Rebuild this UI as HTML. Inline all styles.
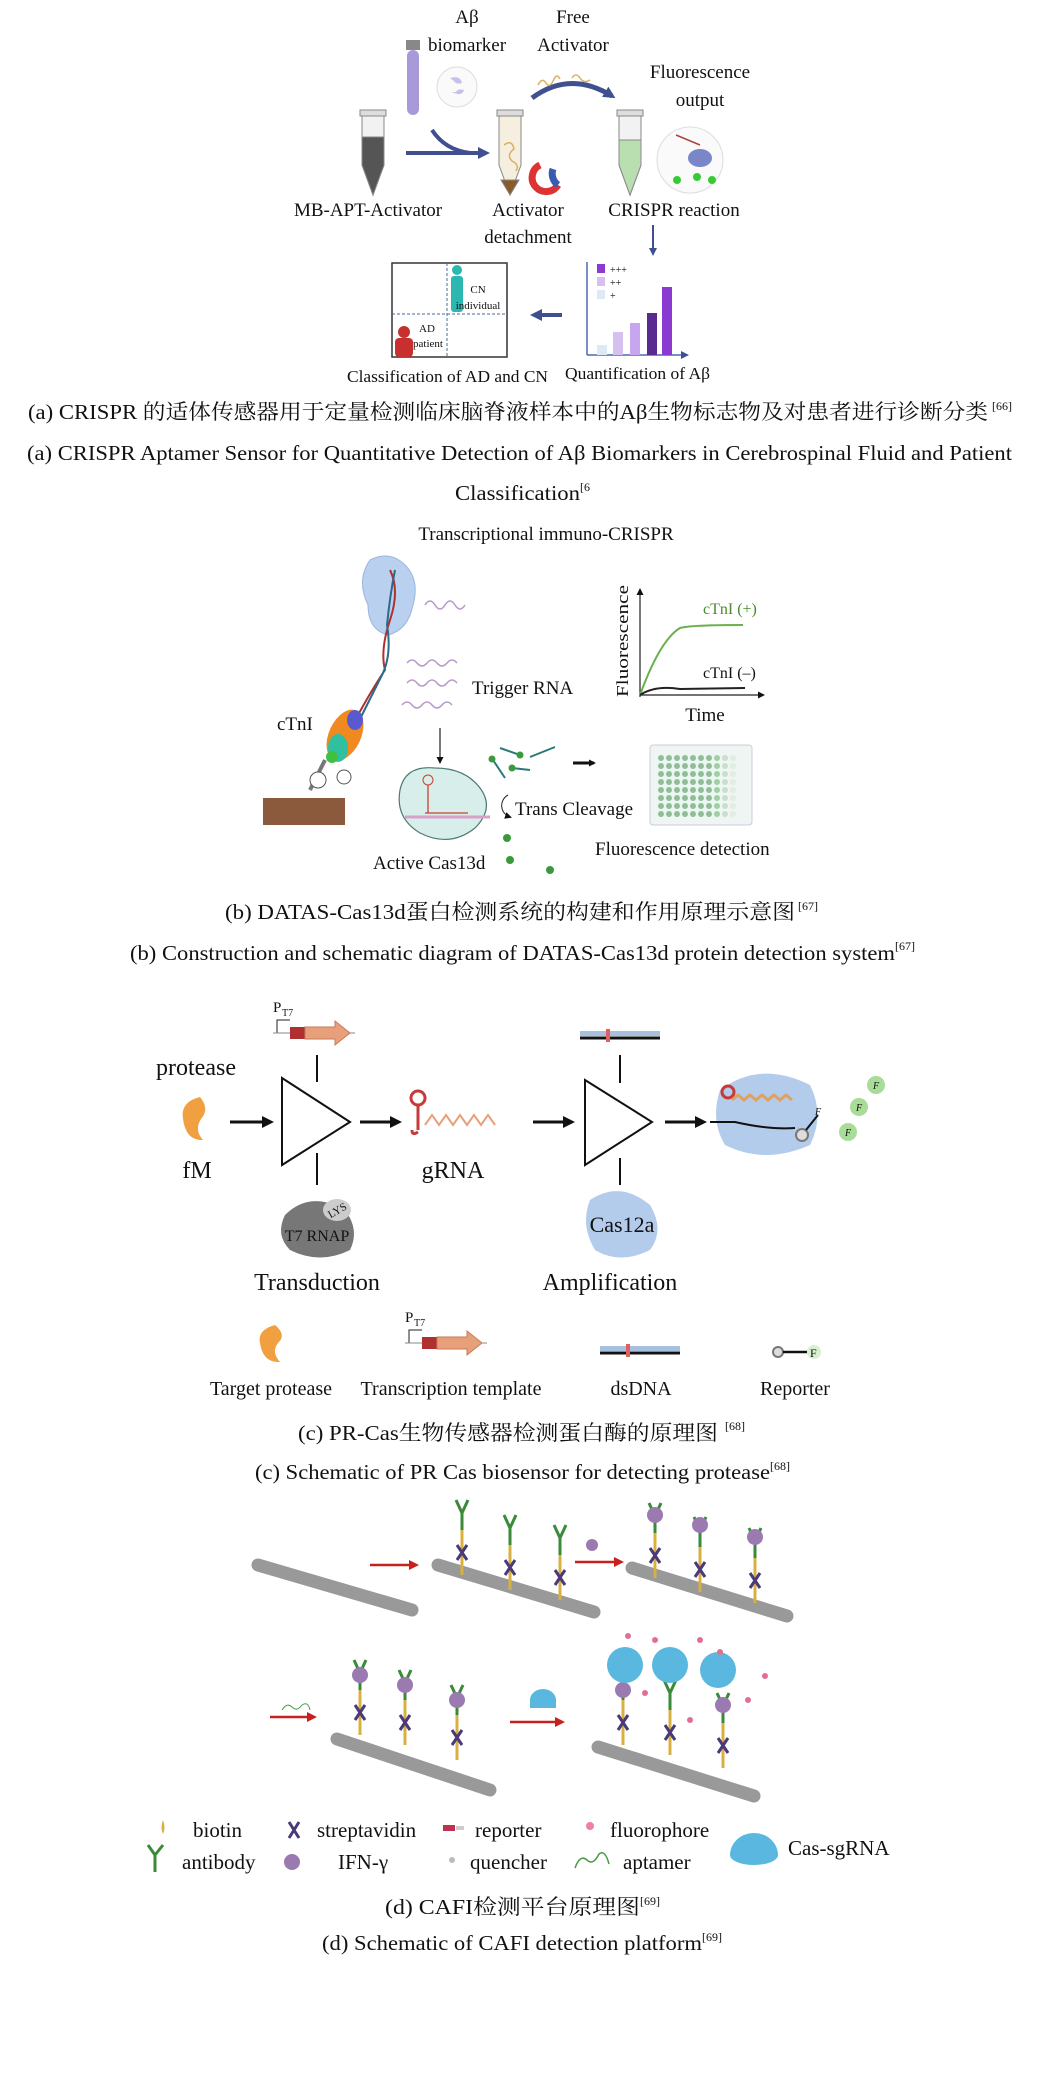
<!DOCTYPE html>
<html><head><meta charset="utf-8"><style>
html,body{margin:0;padding:0;background:#fff;}
svg{display:block;}
text{font-family:"Liberation Serif","Noto Serif CJK SC","Noto Sans CJK SC",serif;fill:#111;}
</style></head><body>
<svg width="1043" height="2100" viewBox="0 0 1043 2100" xmlns="http://www.w3.org/2000/svg">
<defs>
<marker id="ab" markerUnits="userSpaceOnUse" markerWidth="12" markerHeight="12" refX="8" refY="6" orient="auto"><path d="M0,0 L12,6 L0,12 z" fill="#3f4f8f"/></marker>
<marker id="abs" markerUnits="userSpaceOnUse" markerWidth="8" markerHeight="8" refX="5" refY="4" orient="auto"><path d="M0,0 L8,4 L0,8 z" fill="#3f4f8f"/></marker>
<marker id="ak" markerUnits="userSpaceOnUse" markerWidth="12" markerHeight="12" refX="8" refY="6" orient="auto"><path d="M0,0 L12,6 L0,12 z" fill="#111"/></marker>
<marker id="aks" markerUnits="userSpaceOnUse" markerWidth="7" markerHeight="7" refX="5" refY="3.5" orient="auto"><path d="M0,0 L7,3.5 L0,7 z" fill="#111"/></marker>
<marker id="ar" markerUnits="userSpaceOnUse" markerWidth="10" markerHeight="10" refX="7" refY="5" orient="auto"><path d="M0,0 L10,5 L0,10 z" fill="#c8201e"/></marker>
</defs>

<!-- ===== Section a ===== -->
<g font-size="19" text-anchor="middle">
<text x="467" y="23">Aβ</text>
<text x="467" y="51">biomarker</text>
<text x="573" y="23">Free</text>
<text x="573" y="51">Activator</text>
<text x="700" y="78">Fluorescence</text>
<text x="700" y="106">output</text>
<text x="368" y="216">MB-APT-Activator</text>
<text x="528" y="216">Activator</text>
<text x="528" y="243">detachment</text>
<text x="674" y="216">CRISPR reaction</text>
</g>
<g stroke="#888" stroke-width="1">
<rect x="360" y="110" width="26" height="6" fill="#ddd"/>
<path d="M362,116 L384,116 L384,165 L373,195 L362,165 Z" fill="#f2f2f2"/>
<path d="M362,137 L384,137 L384,165 L373,195 L362,165 Z" fill="#555"/>
<rect x="497" y="110" width="26" height="6" fill="#ddd"/>
<path d="M499,116 L521,116 L521,165 L510,195 L499,165 Z" fill="#f6efe0"/>
<path d="M501,180 L519,180 L510,195 Z" fill="#8a5a2a"/>
<rect x="617" y="110" width="26" height="6" fill="#ddd"/>
<path d="M619,116 L641,116 L641,165 L630,195 L619,165 Z" fill="#f2f2f2"/>
<path d="M619,140 L641,140 L641,165 L630,195 L619,165 Z" fill="#b9deb0"/>
</g>
<path d="M504,145 q8,-6 10,4 q-8,6 -2,12 q8,4 4,10" stroke="#d9b060" fill="none" stroke-width="1.5"/>
<rect x="406" y="40" width="14" height="10" fill="#888"/>
<rect x="407" y="50" width="12" height="65" rx="6" fill="#a89ad8"/>
<circle cx="457" cy="87" r="20" fill="#fafafa" stroke="#ddd"/>
<path d="M450,78 q10,-3 12,5 q-6,2 -8,-2z M452,92 q10,5 12,-2 q-6,-2 -8,2z" fill="#c8c0e8"/>
<path d="M406,153 L486,153" stroke="#3f4f8f" stroke-width="4" marker-end="url(#ab)"/>
<path d="M432,130 Q445,150 470,153" stroke="#3f4f8f" stroke-width="4" fill="none"/>
<path d="M532,98 Q570,70 612,96" stroke="#3f4f8f" stroke-width="5" fill="none" marker-end="url(#ab)"/>
<path d="M538,85 q4,-8 8,-2 q4,6 8,-4 q3,-6 6,0 M572,78 q4,-6 8,0 q4,6 10,2" stroke="#d9b060" fill="none" stroke-width="1.5"/>
<path d="M540,165 a14,14 0 1,0 18,20" stroke="#d33" stroke-width="7" fill="none"/>
<path d="M558,185 a14,14 0 0,1 -5,-16" stroke="#3b5bb0" stroke-width="7" fill="none"/>
<circle cx="690" cy="160" r="33" fill="#fafafa" stroke="#ddd"/>
<ellipse cx="700" cy="158" rx="12" ry="9" fill="#7b86c8"/>
<circle cx="677" cy="180" r="4" fill="#3c3"/><circle cx="697" cy="177" r="4" fill="#3c3"/><circle cx="712" cy="180" r="4" fill="#3c3"/>
<path d="M676,135 L700,145" stroke="#a44" stroke-width="1.5"/>
<path d="M653,225 L653,253" stroke="#3f4f8f" stroke-width="2" marker-end="url(#abs)"/>
<rect x="392" y="263" width="115" height="94" fill="#fff" stroke="#333" stroke-width="1.5"/>
<path d="M392,314 L507,314" stroke="#4a6a9a" stroke-dasharray="3,2"/>
<path d="M447,263 L447,357" stroke="#4a6a9a" stroke-dasharray="3,2"/>
<circle cx="457" cy="270" r="5" fill="#2bb8b0"/>
<rect x="451" y="276" width="12" height="36" rx="3" fill="#2bb8b0"/>
<text x="478" y="293" font-size="11" text-anchor="middle">CN</text>
<text x="478" y="309" font-size="11" text-anchor="middle">individual</text>
<circle cx="404" cy="332" r="6" fill="#c83030"/>
<rect x="395" y="338" width="18" height="19" rx="4" fill="#c83030"/>
<text x="427" y="332" font-size="11" text-anchor="middle">AD</text>
<text x="428" y="347" font-size="11" text-anchor="middle">patient</text>
<path d="M562,315 L534,315" stroke="#3f4f8f" stroke-width="4" marker-end="url(#ab)"/>
<path d="M587,355 L587,262" stroke="#4a6ab0" stroke-width="1.5"/>
<path d="M587,355 L686,355" stroke="#4a6ab0" stroke-width="1.5" marker-end="url(#abs)"/>
<rect x="597" y="345" width="10" height="10" fill="#dde9f6"/>
<rect x="613" y="332" width="10" height="23" fill="#d6c0f0"/>
<rect x="630" y="323" width="10" height="32" fill="#c7a5ef"/>
<rect x="647" y="313" width="10" height="42" fill="#5a2a90"/>
<rect x="662" y="287" width="10" height="68" fill="#8a3ad0"/>
<rect x="597" y="264" width="8" height="9" fill="#8a3ad0"/><text x="610" y="273" font-size="10">+++</text>
<rect x="597" y="277" width="8" height="9" fill="#d6c0f0"/><text x="610" y="286" font-size="10">++</text>
<rect x="597" y="290" width="8" height="9" fill="#dde9f6"/><text x="610" y="299" font-size="10">+</text>
<text x="347" y="382" font-size="17" textLength="201" lengthAdjust="spacingAndGlyphs">Classification of AD and CN</text>
<text x="565" y="379" font-size="17" textLength="145" lengthAdjust="spacingAndGlyphs">Quantification of Aβ</text>
<text x="28" y="419" font-size="21" textLength="960" lengthAdjust="spacingAndGlyphs">(a) CRISPR 的适体传感器用于定量检测临床脑脊液样本中的Aβ生物标志物及对患者进行诊断分类</text>
<text x="992" y="410" font-size="12">[66]</text>
<text x="27" y="460" font-size="21" textLength="985" lengthAdjust="spacingAndGlyphs">(a) CRISPR Aptamer Sensor for Quantitative Detection of Aβ Biomarkers in Cerebrospinal Fluid and Patient</text>
<text x="455" y="500" font-size="21" textLength="125" lengthAdjust="spacingAndGlyphs">Classification</text>
<text x="580" y="491" font-size="12">[6</text>

<!-- ===== Section b ===== -->
<text x="546" y="540" font-size="19" text-anchor="middle">Transcriptional immuno-CRISPR</text>
<path d="M370,560 q20,-10 35,5 q15,15 8,40 q-5,25 -25,30 q-20,-5 -20,-30 q-12,-25 2,-45z" fill="#b9d0ee" stroke="#9ab6e0"/>
<path d="M390,570 q10,20 0,50 q-10,30 -5,50 q-20,30 -40,70" stroke="#b03030" stroke-width="2" fill="none"/>
<path d="M395,570 q-5,25 -8,55 q5,30 -5,50 q-15,30 -35,70" stroke="#2a6a8a" stroke-width="2" fill="none"/>
<path d="M425,605 q5,-8 10,0 q5,8 10,0 q5,-8 10,0 q5,8 10,0" stroke="#b898c8" fill="none" stroke-width="1.5"/>
<g stroke="#b898c8" fill="none" stroke-width="1.5">
<path d="M407,663 q5,-6 10,0 q5,6 10,0 q5,-6 10,0 q5,6 10,0 q5,-6 10,0"/>
<path d="M407,683 q5,-6 10,0 q5,6 10,0 q5,-6 10,0 q5,6 10,0 q5,-6 10,0"/>
<path d="M402,705 q5,-6 10,0 q5,6 10,0 q5,-6 10,0 q5,6 10,0 q5,-6 10,0"/>
</g>
<text x="472" y="694" font-size="19">Trigger RNA</text>
<text x="277" y="730" font-size="19">cTnI</text>
<ellipse cx="345" cy="735" rx="16" ry="27" fill="#f08a20" transform="rotate(25 345 735)"/>
<ellipse cx="338" cy="748" rx="10" ry="14" fill="#30c0a0"/>
<ellipse cx="355" cy="720" rx="8" ry="10" fill="#5a5ad0"/>
<ellipse cx="332" cy="757" rx="6" ry="6" fill="#40c040"/>
<path d="M325,760 L310,790" stroke="#777" stroke-width="4"/>
<circle cx="318" cy="780" r="8" fill="#fff" stroke="#555"/><circle cx="344" cy="777" r="7" fill="#fff" stroke="#555"/>
<rect x="263" y="798" width="82" height="27" fill="#8b5a3c"/>
<path d="M440,728 L440,762" stroke="#222" stroke-width="1.2" marker-end="url(#aks)"/>
<path d="M400,790 q5,-25 35,-22 q30,0 45,20 q15,20 -5,40 q-25,20 -55,5 q-25,-15 -20,-43z" fill="#d8eeea" stroke="#4a7a72" stroke-width="1.2"/>
<path d="M405,817 L490,817" stroke="#d9a0c8" stroke-width="3"/>
<path d="M425,813 L468,813 M428,813 L428,785" stroke="#c84030" stroke-width="1.3" fill="none"/>
<circle cx="428" cy="780" r="5" fill="none" stroke="#c84030"/>
<text x="373" y="869" font-size="19">Active Cas13d</text>
<g stroke="#2a7a7a" stroke-width="2">
<path d="M500,748 L520,755"/><path d="M530,757 L555,747"/><path d="M493,760 L505,778"/><path d="M512,768 L530,770"/>
</g>
<g fill="#3a9a3a"><circle cx="520" cy="755" r="3.5"/><circle cx="492" cy="759" r="3.5"/><circle cx="512" cy="768" r="3.5"/><circle cx="507" cy="838" r="4"/><circle cx="510" cy="860" r="4"/><circle cx="550" cy="870" r="4"/></g>
<path d="M573,763 L594,763" stroke="#111" stroke-width="3" marker-end="url(#aks)"/>
<path d="M508,795 a12,12 0 0,0 2,22" stroke="#222" fill="none" marker-end="url(#aks)"/>
<text x="515" y="815" font-size="19">Trans Cleavage</text>
<rect x="650" y="745" width="102" height="80" rx="3" fill="#eef5f2" stroke="#ccd"/>
<g id="wells">
<circle cx="661" cy="758" r="3" fill="#8fbf9a"/><circle cx="669" cy="758" r="3" fill="#8fbf9a"/><circle cx="677" cy="758" r="3" fill="#8fbf9a"/><circle cx="685" cy="758" r="3" fill="#8fbf9a"/><circle cx="693" cy="758" r="3" fill="#8fbf9a"/><circle cx="701" cy="758" r="3" fill="#8fbf9a"/><circle cx="709" cy="758" r="3" fill="#8fbf9a"/><circle cx="717" cy="758" r="3" fill="#9fcfa4"/><circle cx="725" cy="758" r="3" fill="#c8e0cc"/><circle cx="733" cy="758" r="3" fill="#e0ece4"/>
</g>
<use href="#wells" y="8"/><use href="#wells" y="16"/><use href="#wells" y="24"/><use href="#wells" y="32"/><use href="#wells" y="40"/><use href="#wells" y="48"/><use href="#wells" y="56"/>
<text x="595" y="855" font-size="19">Fluorescence detection</text>
<path d="M640,697 L640,590" stroke="#222" stroke-width="1.2" marker-end="url(#aks)"/>
<path d="M640,695 L763,695" stroke="#222" stroke-width="1.2" marker-end="url(#aks)"/>
<text x="0" y="0" font-size="17" transform="translate(628,697) rotate(-90)" textLength="112" lengthAdjust="spacingAndGlyphs">Fluorescence</text>
<path d="M640,695 Q660,640 680,628 Q690,625 743,625" stroke="#6ab04c" stroke-width="2" fill="none"/>
<path d="M640,695 Q655,685 680,689 L745,688" stroke="#222" stroke-width="2" fill="none"/>
<text x="703" y="614" font-size="16" style="fill:#4a8a2a">cTnI (+)</text>
<text x="703" y="678" font-size="16">cTnI (–)</text>
<text x="705" y="721" font-size="19" text-anchor="middle">Time</text>
<text x="225" y="919" font-size="21" textLength="570" lengthAdjust="spacingAndGlyphs">(b) DATAS-Cas13d蛋白检测系统的构建和作用原理示意图</text>
<text x="798" y="910" font-size="12">[67]</text>
<text x="130" y="960" font-size="21" textLength="765" lengthAdjust="spacingAndGlyphs">(b) Construction and schematic diagram of DATAS-Cas13d protein detection system</text>
<text x="895" y="950" font-size="12">[67]</text>

<!-- ===== Section c ===== -->
<g id="tmpl">
<text x="273" y="1012" font-size="15">P</text><text x="282" y="1016" font-size="10">T7</text>
<path d="M277,1033 L277,1020 L290,1020" stroke="#222" fill="none"/>
<path d="M273,1033 L355,1033" stroke="#888"/>
<rect x="290" y="1027" width="15" height="12" fill="#b03030"/>
<path d="M305,1027 L335,1027 L335,1021 L350,1033 L335,1045 L335,1039 L305,1039 Z" fill="#e8a07a" stroke="#c87a5a"/>
</g>
<path d="M317,1055 L317,1082 M317,1153 L317,1185" stroke="#111" stroke-width="2"/>
<text x="196" y="1075" font-size="24" text-anchor="middle">protease</text>
<path d="M200,1097 q-20,5 -17,22 q3,22 20,21 q-9,-10 -2,-21 q9,-10 -1,-22z" fill="#f0a040"/>
<text x="197" y="1178" font-size="24" text-anchor="middle">fM</text>
<path d="M282,1078 L350,1122 L282,1165 Z" fill="#fff" stroke="#111" stroke-width="2"/>
<path d="M585,1080 L652,1122 L585,1165 Z" fill="#fff" stroke="#111" stroke-width="2"/>
<g stroke="#111" stroke-width="3">
<path d="M230,1122 L270,1122" marker-end="url(#ak)"/><path d="M360,1122 L398,1122" marker-end="url(#ak)"/>
<path d="M533,1122 L571,1122" marker-end="url(#ak)"/><path d="M665,1122 L703,1122" marker-end="url(#ak)"/>
</g>
<circle cx="418" cy="1098" r="7" fill="none" stroke="#c83a3a" stroke-width="3"/>
<path d="M418,1105 L418,1130 M412,1130 q0,6 6,2" stroke="#c83a3a" stroke-width="3" fill="none"/>
<path d="M425,1125 l7,-10 l7,10 l7,-10 l7,10 l7,-10 l7,10 l7,-10 l7,10 l7,-10 l7,10" stroke="#e8a07a" stroke-width="2" fill="none"/>
<text x="453" y="1178" font-size="24" text-anchor="middle">gRNA</text>
<g id="ds">
<rect x="580" y="1031" width="80" height="5" fill="#a8c0e0"/>
<path d="M580,1038 L660,1038" stroke="#111" stroke-width="3"/>
<rect x="606" y="1029" width="4" height="13" fill="#e06060"/>
</g>
<path d="M620,1055 L620,1083 M620,1158 L620,1185" stroke="#111" stroke-width="2"/>
<path d="M590,1200 q30,-20 60,5 q15,25 0,45 q-30,15 -55,0 q-15,-25 -5,-50z" fill="#b4cceb"/>
<text x="622" y="1232" font-size="22" text-anchor="middle">Cas12a</text>
<path d="M285,1215 q25,-25 60,-5 q15,20 5,40 q-30,15 -60,0 q-15,-15 -5,-35z" fill="#777"/>
<ellipse cx="337" cy="1210" rx="14" ry="11" fill="#ccc"/>
<text x="337" y="1214" font-size="11" text-anchor="middle" transform="rotate(-30 337 1210)">LYS</text>
<text x="317" y="1241" font-size="16" text-anchor="middle">T7 RNAP</text>
<path d="M720,1090 q40,-30 90,-5 q15,30 0,60 q-45,20 -85,0 q-15,-25 -5,-55z" fill="#b4cceb"/>
<circle cx="728" cy="1092" r="6" fill="none" stroke="#c83a3a" stroke-width="3"/>
<path d="M732,1100 l6,-5 l6,5 l6,-5 l6,5 l6,-5 l6,5 l6,-5 l6,5 l6,-5 l6,5" stroke="#e0a060" stroke-width="3" fill="none"/>
<path d="M710,1122 L735,1122 Q770,1130 795,1128" stroke="#111" stroke-width="2" fill="none"/>
<circle cx="802" cy="1135" r="6" fill="#ddd" stroke="#777" stroke-width="2"/>
<path d="M806,1130 L818,1115" stroke="#111" stroke-width="2"/>
<g fill="#a8dc98"><circle cx="876" cy="1085" r="9"/><circle cx="859" cy="1107" r="9"/><circle cx="848" cy="1132" r="9"/></g>
<g font-size="10" font-style="italic"><text x="873" y="1089">F</text><text x="856" y="1111">F</text><text x="845" y="1136">F</text><text x="815" y="1115">F</text></g>
<text x="317" y="1290" font-size="24" text-anchor="middle">Transduction</text>
<text x="610" y="1290" font-size="24" text-anchor="middle">Amplification</text>
<path d="M275,1325 q-18,5 -15,18 q3,20 20,19 q-9,-10 -2,-19 q9,-8 -3,-18z" fill="#f0a040"/>
<use href="#tmpl" x="132" y="310"/>
<use href="#ds" x="20" y="315"/>
<circle cx="778" cy="1352" r="5" fill="#ddd" stroke="#777" stroke-width="2"/>
<path d="M783,1352 L807,1352" stroke="#111" stroke-width="2.5"/>
<circle cx="814" cy="1352" r="7" fill="#d8efd0"/><text x="810" y="1357" font-size="12">F</text>
<g font-size="20" text-anchor="middle">
<text x="271" y="1395">Target protease</text>
<text x="451" y="1395">Transcription template</text>
<text x="641" y="1395">dsDNA</text>
<text x="795" y="1395">Reporter</text>
</g>
<text x="298" y="1440" font-size="21" textLength="420" lengthAdjust="spacingAndGlyphs">(c) PR-Cas生物传感器检测蛋白酶的原理图</text>
<text x="725" y="1430" font-size="12">[68]</text>
<text x="255" y="1479" font-size="21" textLength="515" lengthAdjust="spacingAndGlyphs">(c) Schematic of PR Cas biosensor for detecting protease</text>
<text x="770" y="1470" font-size="12">[68]</text>

<!-- ===== Section d ===== -->
<g stroke="#999" stroke-width="13" stroke-linecap="round">
<path d="M258,1565 L412,1610"/><path d="M438,1565 L594,1612"/><path d="M632,1568 L787,1616"/>
<path d="M337,1739 L490,1790"/><path d="M598,1747 L754,1796"/>
</g>
<g stroke="#c8201e" stroke-width="2.5">
<path d="M370,1565 L416,1565" marker-end="url(#ar)"/><path d="M575,1562 L621,1562" marker-end="url(#ar)"/>
<path d="M270,1717 L314,1717" marker-end="url(#ar)"/><path d="M510,1722 L562,1722" marker-end="url(#ar)"/>
</g>
<g id="stalk">
<path d="M0,0 L0,-45" stroke="#d8b040" stroke-width="3"/>
<path d="M-5,-30 L5,-15 M5,-30 L-5,-15" stroke="#4a3a7a" stroke-width="3"/>
<path d="M0,-45 L0,-62 M0,-62 L-6,-75 M0,-62 L6,-75" stroke="#3a8a3a" stroke-width="3" fill="none"/>
</g>
<use href="#stalk" x="462" y="1575"/><use href="#stalk" x="510" y="1590"/><use href="#stalk" x="560" y="1600"/>
<use href="#stalk" x="655" y="1578"/><use href="#stalk" x="700" y="1592"/><use href="#stalk" x="755" y="1603"/>
<g fill="#9a7ab0"><circle cx="655" cy="1515" r="8"/><circle cx="700" cy="1525" r="8"/><circle cx="755" cy="1537" r="8"/><circle cx="592" cy="1545" r="6"/></g>
<use href="#stalk" x="360" y="1735"/><use href="#stalk" x="405" y="1745"/><use href="#stalk" x="457" y="1760"/>
<use href="#stalk" x="623" y="1745"/><use href="#stalk" x="670" y="1755"/><use href="#stalk" x="723" y="1768"/>
<g fill="#9a7ab0"><circle cx="360" cy="1675" r="8"/><circle cx="405" cy="1685" r="8"/><circle cx="457" cy="1700" r="8"/><circle cx="623" cy="1690" r="8"/><circle cx="723" cy="1705" r="8"/></g>
<path d="M282,1710 q5,-8 10,-3 q5,5 10,-2 q6,-4 8,5" stroke="#4a9a4a" fill="none"/>
<path d="M530,1700 a13,11 0 1,1 26,0 l0,8 l-26,0z" fill="#5ab8e0"/>
<g fill="#5ab8e0"><circle cx="625" cy="1665" r="18"/><circle cx="670" cy="1665" r="18"/><circle cx="718" cy="1670" r="18"/></g>
<g fill="#e07090"><circle cx="628" cy="1636" r="3"/><circle cx="655" cy="1640" r="3"/><circle cx="700" cy="1640" r="3"/><circle cx="720" cy="1652" r="3"/><circle cx="765" cy="1676" r="3"/><circle cx="748" cy="1700" r="3"/><circle cx="690" cy="1720" r="3"/><circle cx="645" cy="1693" r="3"/></g>
<path d="M163,1820 q-3,8 0,14 q3,-6 0,-14z" fill="#d8b040"/>
<path d="M289,1822 L299,1838 M299,1822 L289,1838" stroke="#4a3a7a" stroke-width="3"/>
<rect x="443" y="1825" width="12" height="6" fill="#c03050"/><rect x="456" y="1826" width="8" height="4" fill="#ccc"/>
<circle cx="590" cy="1826" r="4" fill="#f080a0"/>
<path d="M155,1855 L155,1872 M155,1855 L148,1845 M155,1855 L163,1845" stroke="#3a8a3a" stroke-width="3" fill="none"/>
<circle cx="292" cy="1862" r="8" fill="#9a7ab0"/>
<circle cx="452" cy="1860" r="3" fill="#bbb"/>
<path d="M575,1868 q5,-14 12,-8 q6,6 12,-6 q6,-5 10,10" stroke="#4a9a4a" fill="none" stroke-width="1.5"/>
<path d="M730,1855 a24,22 0 1,1 48,0 a24,10 0 0,1 -48,0z" fill="#5ab8e0"/>
<g font-size="21">
<text x="193" y="1837">biotin</text>
<text x="317" y="1837">streptavidin</text>
<text x="475" y="1837">reporter</text>
<text x="610" y="1837">fluorophore</text>
<text x="788" y="1855">Cas-sgRNA</text>
<text x="182" y="1869">antibody</text>
<text x="338" y="1869">IFN-γ</text>
<text x="470" y="1869">quencher</text>
<text x="623" y="1869">aptamer</text>
</g>
<text x="385" y="1914" font-size="21" textLength="255" lengthAdjust="spacingAndGlyphs">(d) CAFI检测平台原理图</text>
<text x="640" y="1905" font-size="12">[69]</text>
<text x="322" y="1950" font-size="21" textLength="380" lengthAdjust="spacingAndGlyphs">(d) Schematic of CAFI detection platform</text>
<text x="702" y="1941" font-size="12">[69]</text>
</svg>
</body></html>
